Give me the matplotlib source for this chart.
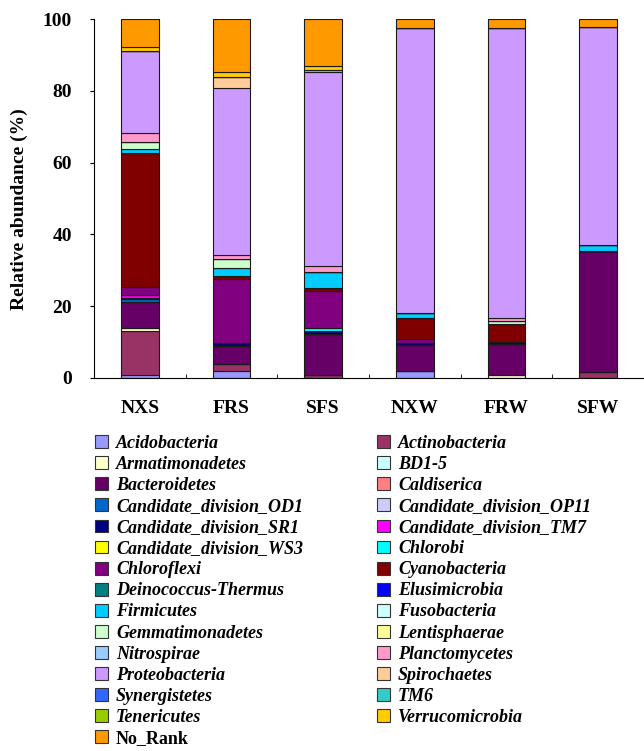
import numpy as np
import matplotlib.pyplot as plt
from matplotlib.patches import Patch

plt.rcParams['font.family'] = 'Liberation Serif'
plt.rcParams['font.weight'] = 'bold'

samples = ['NXS', 'FRS', 'SFS', 'NXW', 'FRW', 'SFW']

phyla = ['Acidobacteria', 'Actinobacteria', 'Armatimonadetes', 'BD1-5',
         'Bacteroidetes', 'Caldiserica', 'Candidate_division_OD1',
         'Candidate_division_OP11', 'Candidate_division_SR1',
         'Candidate_division_TM7', 'Candidate_division_WS3', 'Chlorobi',
         'Chloroflexi', 'Cyanobacteria', 'Deinococcus-Thermus',
         'Elusimicrobia', 'Firmicutes', 'Fusobacteria', 'Gemmatimonadetes',
         'Lentisphaerae', 'Nitrospirae', 'Planctomycetes', 'Proteobacteria',
         'Spirochaetes', 'Synergistetes', 'TM6', 'Tenericutes',
         'Verrucomicrobia', 'No_Rank']

colors = ['#9999FF', '#993366', '#FFFFCC', '#CCFFFF', '#660066', '#FF8080',
          '#0066CC', '#CCCCFF', '#000080', '#FF00FF', '#FFFF00', '#00FFFF',
          '#800080', '#800000', '#008080', '#0000FF', '#00CCFF', '#CCFFFF',
          '#CCFFCC', '#FFFF99', '#99CCFF', '#FF99CC', '#CC99FF', '#FFCC99',
          '#3366FF', '#33CCCC', '#99CC00', '#FFCC00', '#FF9900']

# relative abundance (%) per sample, phyla not listed are zero
NXS = {'Acidobacteria': 0.9, 'Actinobacteria': 12.1, 'Armatimonadetes': 0.9,
       'Bacteroidetes': 7.4, 'Candidate_division_OD1': 0.8,
       'Candidate_division_SR1': 0.3, 'Candidate_division_TM7': 0.8,
       'Chloroflexi': 2.1, 'Cyanobacteria': 37.3, 'Firmicutes': 1.1,
       'Gemmatimonadetes': 1.9, 'Planctomycetes': 2.6, 'Proteobacteria': 23.0,
       'Verrucomicrobia': 1.1, 'No_Rank': 7.7}
FRS = {'Acidobacteria': 1.9, 'Actinobacteria': 2.0, 'Bacteroidetes': 4.9,
       'Candidate_division_SR1': 0.9, 'Chloroflexi': 17.9,
       'Cyanobacteria': 0.7, 'Firmicutes': 2.3, 'Gemmatimonadetes': 2.5,
       'Planctomycetes': 1.2, 'Proteobacteria': 46.4, 'Spirochaetes': 3.1,
       'Verrucomicrobia': 1.4, 'No_Rank': 14.8}
SFS = {'Actinobacteria': 0.9, 'Bacteroidetes': 11.3,
       'Candidate_division_SR1': 0.8, 'Chlorobi': 0.9, 'Chloroflexi': 10.2,
       'Cyanobacteria': 0.9, 'Firmicutes': 4.5, 'Planctomycetes': 1.6,
       'Proteobacteria': 54.0, 'Spirochaetes': 0.8, 'Verrucomicrobia': 1.0,
       'No_Rank': 13.1}
NXW = {'Acidobacteria': 1.9, 'Bacteroidetes': 7.2,
       'Candidate_division_SR1': 0.6, 'Chloroflexi': 1.2,
       'Cyanobacteria': 5.8, 'Firmicutes': 1.4, 'Proteobacteria': 79.3,
       'No_Rank': 2.6}
FRW = {'Armatimonadetes': 0.9, 'Bacteroidetes': 8.6,
       'Candidate_division_SR1': 0.5, 'Cyanobacteria': 5.0,
       'Gemmatimonadetes': 1.0, 'Planctomycetes': 0.7,
       'Proteobacteria': 80.9, 'No_Rank': 2.4}
SFW = {'Actinobacteria': 1.6, 'Bacteroidetes': 33.8, 'Firmicutes': 1.7,
       'Proteobacteria': 60.6, 'No_Rank': 2.3}

table = [NXS, FRS, SFS, NXW, FRW, SFW]
data = np.array([[t.get(p, 0.0) for t in table] for p in phyla])

fig = plt.figure(figsize=(6.44, 7.51), dpi=100)
ax = fig.add_axes([94 / 644, 1 - 378 / 751, 550 / 644, 359 / 751])

x = np.arange(len(samples))
bottom = np.zeros(len(samples))
for name, col, vals in zip(phyla, colors, data):
    ax.bar(x, vals, 0.41, bottom=bottom, color=col, edgecolor='#1a1a1a',
           linewidth=0.8)
    bottom += vals

ax.set_xlim(-0.5, 5.5)
ax.set_ylim(0, 100)
ax.set_yticks(np.arange(0, 101, 20))
ax.set_xticks(x)
ax.set_xticklabels(samples, fontsize=14, fontweight='bold')
ax.set_xticks(x[:-1] + 0.5, minor=True)
ax.tick_params(axis='x', which='major', length=0, pad=16)
ax.tick_params(axis='x', which='minor', direction='in', length=3)
ax.tick_params(axis='y', direction='out', length=3, labelsize=14, pad=13)
for lab in ax.get_yticklabels():
    lab.set_fontweight('bold')
ax.spines['top'].set_visible(False)
ax.spines['right'].set_visible(False)
ax.set_ylabel('Relative abundance (%)', fontsize=14, fontweight='bold')
ax.yaxis.set_label_coords(-66 / 550, 0.47)

# two legend columns, filled row by row: left takes even entries
handles = [Patch(facecolor=c, edgecolor='#333333', linewidth=0.8)
           for c in colors]
legend_kw = dict(loc='upper left', frameon=False,
                 prop={'size': 13, 'weight': 'bold', 'style': 'italic'},
                 handlelength=0.72, handleheight=0.72, handletextpad=0.45,
                 labelspacing=0.225, borderaxespad=0, borderpad=0)
for start, xpos in [(0, 95), (1, 377)]:
    idx = range(start, len(phyla), 2)
    leg = fig.legend([handles[i] for i in idx], [phyla[i] for i in idx],
                     bbox_to_anchor=(xpos / 644, 1 - 435 / 751), **legend_kw)
    for t in leg.get_texts():
        if t.get_text() == 'No_Rank':
            t.set_fontstyle('normal')

fig.savefig('out.png', dpi=100)
